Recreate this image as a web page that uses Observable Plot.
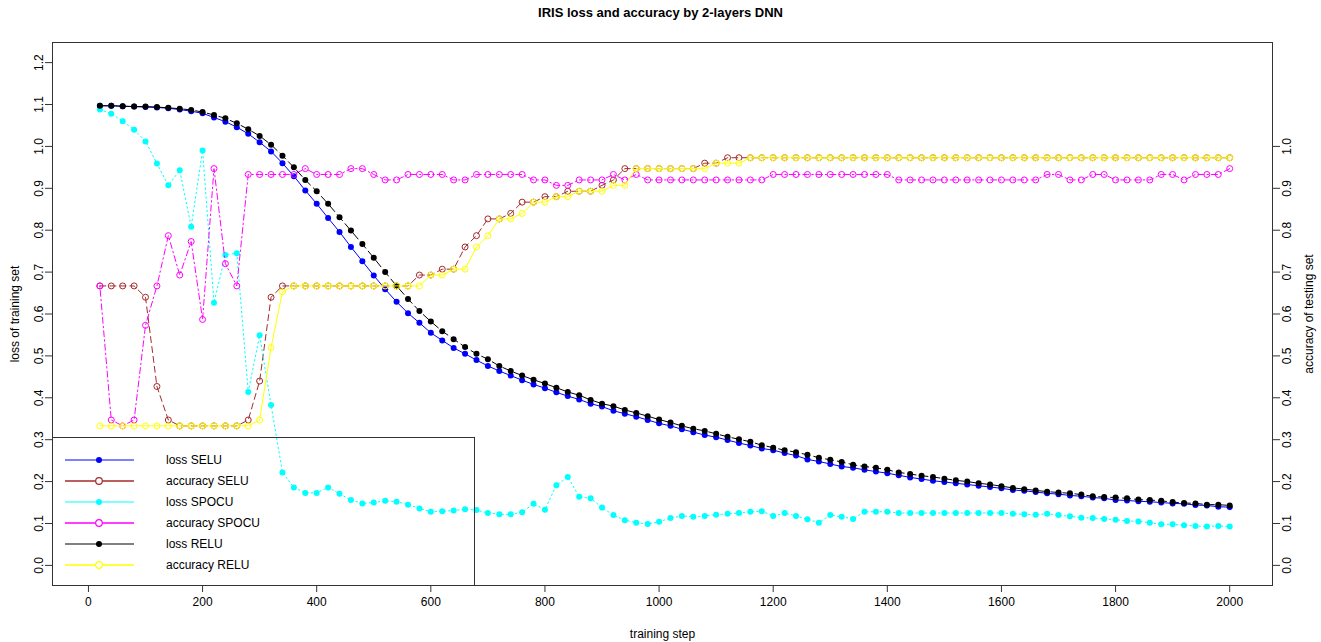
<!DOCTYPE html>
<html>
<head>
<meta charset="utf-8">
<script src="https://cdn.jsdelivr.net/npm/d3@7"></script>
<script src="https://cdn.jsdelivr.net/npm/@observablehq/plot@0.6"></script>
<style>
  html, body { margin: 0; padding: 0; background: #fff; }
  body { position: relative; width: 1321px; height: 642px; overflow: hidden; font-family: "Liberation Sans", Arial, sans-serif; }
  #title { height: 26px; line-height: 26px; text-align: center; font-weight: bold; font-size: 13px; color: #000; }
  #legend { position: absolute; left: 52px; top: 437px; width: 421px; height: 147px; border: 1px solid #333; box-sizing: content-box; pointer-events: none; }
  #legend .row { position: absolute; left: 0; height: 20px; width: 100%; }
  #legend svg { position: absolute; left: 11px; top: 0; }
  #legend span { position: absolute; left: 113px; top: 3px; font-size: 12px; color: #000; white-space: nowrap; }
</style>
</head>
<body>
<div id="title">IRIS loss and accuracy by 2-layers DNN</div>
<div id="chart"></div>
<div id="legend"></div>
<script>
// ---------- data ----------
const steps = [20,40,60,80,100,120,140,160,180,200,220,240,260,280,300,320,340,360,380,400,
  420,440,460,480,500,520,540,560,580,600,620,640,660,680,700,720,740,760,780,800,
  820,840,860,880,900,920,940,960,980,1000,1020,1040,1060,1080,1100,1120,1140,1160,1180,1200,
  1220,1240,1260,1280,1300,1320,1340,1360,1380,1400,1420,1440,1460,1480,1500,1520,1540,1560,1580,1600,
  1620,1640,1660,1680,1700,1720,1740,1760,1780,1800,1820,1840,1860,1880,1900,1920,1940,1960,1980,2000];

const lossSELU = [1.097,1.097,1.096,1.095,1.094,1.093,1.091,1.088,1.084,1.079,
  1.069,1.059,1.046,1.030,1.010,0.988,0.960,0.929,0.895,0.863,
  0.829,0.796,0.760,0.726,0.692,0.659,0.629,0.602,0.579,0.555,
  0.537,0.519,0.505,0.490,0.476,0.464,0.453,0.442,0.432,0.423,
  0.413,0.404,0.396,0.386,0.379,0.369,0.362,0.355,0.347,0.339,
  0.333,0.325,0.318,0.311,0.306,0.299,0.292,0.286,0.279,0.275,
  0.268,0.262,0.253,0.248,0.242,0.236,0.233,0.228,0.224,0.220,
  0.215,0.210,0.206,0.202,0.199,0.196,0.193,0.190,0.187,0.184,
  0.180,0.178,0.175,0.172,0.170,0.167,0.165,0.162,0.160,0.156,
  0.155,0.153,0.152,0.150,0.148,0.147,0.144,0.143,0.140,0.139];

const accSELU = [0.667,0.667,0.667,0.667,0.640,0.427,0.347,0.333,0.333,0.333,
  0.333,0.333,0.333,0.347,0.440,0.640,0.667,0.667,0.667,0.667,
  0.667,0.667,0.667,0.667,0.667,0.667,0.667,0.667,0.693,0.693,
  0.707,0.707,0.760,0.787,0.827,0.827,0.840,0.867,0.867,0.880,
  0.880,0.893,0.893,0.893,0.907,0.920,0.947,0.947,0.947,0.947,
  0.947,0.947,0.947,0.960,0.960,0.973,0.973,0.973,0.973,0.973,
  0.973,0.973,0.973,0.973,0.973,0.973,0.973,0.973,0.973,0.973,
  0.973,0.973,0.973,0.973,0.973,0.973,0.973,0.973,0.973,0.973,
  0.973,0.973,0.973,0.973,0.973,0.973,0.973,0.973,0.973,0.973,
  0.973,0.973,0.973,0.973,0.973,0.973,0.973,0.973,0.973,0.973];

const lossSPOCU = [1.088,1.078,1.060,1.040,1.012,0.959,0.907,0.943,0.808,0.990,
  0.627,0.741,0.745,0.414,0.549,0.383,0.222,0.186,0.173,0.173,
  0.186,0.171,0.156,0.148,0.150,0.154,0.152,0.145,0.136,0.128,
  0.129,0.131,0.134,0.132,0.125,0.122,0.122,0.127,0.147,0.133,
  0.191,0.211,0.164,0.160,0.138,0.120,0.108,0.102,0.099,0.104,
  0.113,0.118,0.116,0.118,0.121,0.123,0.125,0.128,0.129,0.118,
  0.125,0.118,0.110,0.102,0.120,0.116,0.111,0.128,0.128,0.128,
  0.125,0.125,0.125,0.125,0.125,0.125,0.125,0.125,0.125,0.125,
  0.123,0.122,0.121,0.123,0.120,0.117,0.114,0.113,0.111,0.109,
  0.106,0.105,0.102,0.098,0.098,0.096,0.094,0.093,0.094,0.093];

const accSPOCU = [0.667,0.347,0.333,0.347,0.573,0.667,0.787,0.693,0.773,0.587,
  0.947,0.720,0.667,0.933,0.933,0.933,0.933,0.933,0.947,0.933,
  0.933,0.933,0.947,0.947,0.933,0.920,0.920,0.933,0.933,0.933,
  0.933,0.920,0.920,0.933,0.933,0.933,0.933,0.933,0.920,0.920,
  0.907,0.907,0.920,0.920,0.920,0.933,0.920,0.933,0.920,0.920,
  0.920,0.920,0.920,0.920,0.920,0.920,0.920,0.920,0.920,0.933,
  0.933,0.933,0.933,0.933,0.933,0.933,0.933,0.933,0.933,0.933,
  0.920,0.920,0.920,0.920,0.920,0.920,0.920,0.920,0.920,0.920,
  0.920,0.920,0.920,0.933,0.933,0.920,0.920,0.933,0.933,0.920,
  0.920,0.920,0.920,0.933,0.933,0.920,0.933,0.933,0.933,0.947];

const lossRELU = [1.097,1.097,1.096,1.095,1.095,1.094,1.092,1.090,1.087,1.082,
  1.075,1.067,1.055,1.041,1.025,1.004,0.978,0.950,0.920,0.893,
  0.863,0.831,0.799,0.767,0.734,0.700,0.667,0.636,0.607,0.582,
  0.559,0.540,0.521,0.505,0.492,0.476,0.464,0.453,0.443,0.434,
  0.424,0.414,0.406,0.395,0.386,0.380,0.371,0.364,0.356,0.348,
  0.341,0.333,0.326,0.321,0.314,0.307,0.301,0.295,0.287,0.281,
  0.275,0.270,0.264,0.257,0.252,0.247,0.240,0.236,0.233,0.228,
  0.222,0.218,0.214,0.211,0.207,0.203,0.200,0.196,0.193,0.189,
  0.185,0.182,0.179,0.176,0.174,0.172,0.169,0.165,0.163,0.162,
  0.160,0.157,0.156,0.154,0.151,0.149,0.148,0.145,0.145,0.143];

const accRELU = [0.333,0.333,0.333,0.333,0.333,0.333,0.333,0.333,0.333,0.333,
  0.333,0.333,0.333,0.333,0.347,0.520,0.653,0.667,0.667,0.667,
  0.667,0.667,0.667,0.667,0.667,0.667,0.667,0.667,0.667,0.693,
  0.693,0.707,0.707,0.760,0.787,0.827,0.827,0.840,0.867,0.867,
  0.880,0.880,0.893,0.893,0.893,0.907,0.907,0.947,0.947,0.947,
  0.947,0.947,0.947,0.947,0.960,0.960,0.960,0.973,0.973,0.973,
  0.973,0.973,0.973,0.973,0.973,0.973,0.973,0.973,0.973,0.973,
  0.973,0.973,0.973,0.973,0.973,0.973,0.973,0.973,0.973,0.973,
  0.973,0.973,0.973,0.973,0.973,0.973,0.973,0.973,0.973,0.973,
  0.973,0.973,0.973,0.973,0.973,0.973,0.973,0.973,0.973,0.973];

const seriesNames = ["loss SELU","accuracy SELU","loss SPOCU","accuracy SPOCU","loss RELU","accuracy RELU"];
const seriesValues = [lossSELU, accSELU, lossSPOCU, accSPOCU, lossRELU, accRELU];
const seriesColors = ["#0000FF","#A52A2A","#00FFFF","#FF00FF","#000000","#FFFF00"];
const seriesDash = [null, "6 4", "1.5 3", "1.5 3 6 3", "8 4", null];
const seriesOpen = [false, true, false, true, false, true];

const xTicks = [0,200,400,600,800,1000,1200,1400,1600,1800,2000];
const leftTicks = [0.0,0.1,0.2,0.3,0.4,0.5,0.6,0.7,0.8,0.9,1.0,1.1,1.2];
const rightTicks = [0.0,0.1,0.2,0.3,0.4,0.5,0.6,0.7,0.8,0.9,1.0];

// ---------- marks ----------
const seriesMarks = [];
seriesNames.forEach((name, i) => {
  const rows = steps.map((s, j) => ({step: s, value: seriesValues[i][j]}));
  seriesMarks.push(Plot.line(rows, {x: "step", y: "value", stroke: seriesColors[i], strokeWidth: 1,
    strokeDasharray: seriesDash[i] || undefined}));
  if (seriesOpen[i]) {
    seriesMarks.push(Plot.dot(rows, {x: "step", y: "value", r: 3, stroke: seriesColors[i], fill: "none", strokeWidth: 1}));
  } else {
    seriesMarks.push(Plot.dot(rows, {x: "step", y: "value", r: 3, fill: seriesColors[i], stroke: "none"}));
  }
});

const chart = Plot.plot({
  width: 1321,
  height: 616,
  marginTop: 16,
  marginBottom: 57,
  marginLeft: 52,
  marginRight: 49,
  style: {fontFamily: "'Liberation Sans', Arial, sans-serif", fontSize: "12px", background: "white", color: "#000"},
  x: {domain: [-63, 2075]},
  y: {domain: [-0.048, 1.248]},
  marks: [
    Plot.axisX({ticks: xTicks, tickFormat: d3.format("d"), tickSize: 7, tickPadding: 5, stroke: "#333",
      label: "training step", labelAnchor: "center", labelArrow: "none", labelOffset: 52}),
    Plot.axisY({anchor: "left", ticks: leftTicks, tickFormat: d3.format(".1f"), tickSize: 7, tickRotate: -90, stroke: "#333",
      label: "loss of training set", labelAnchor: "center", labelArrow: "none", labelOffset: 42}),
    Plot.axisY({anchor: "right", ticks: rightTicks, tickFormat: d3.format(".1f"), tickSize: 7, tickRotate: -90, lineAnchor: "top", stroke: "#333",
      label: "accuracy of testing set", labelAnchor: "center", labelArrow: "none", labelOffset: 40}),
    ...seriesMarks,
    Plot.frame({stroke: "#333"})
  ]
});
document.getElementById("chart").appendChild(chart);

// ---------- legend (HTML overlay) ----------
const legend = d3.select("#legend");
const rowTops = [12, 33, 54, 75, 96, 117];
seriesNames.forEach((name, i) => {
  const row = legend.append("div").attr("class", "row").style("top", rowTops[i] + "px");
  const svg = row.append("svg").attr("width", 72).attr("height", 20);
  const thick = seriesOpen[i];
  svg.append("line").attr("x1", 1).attr("x2", 70).attr("y1", 10).attr("y2", 10)
    .attr("stroke", seriesColors[i]).attr("stroke-width", thick ? 2 : 1.2).attr("opacity", thick ? 0.75 : 1);
  if (seriesOpen[i]) {
    svg.append("circle").attr("cx", 35).attr("cy", 10).attr("r", 3.3).attr("fill", "white").attr("stroke", seriesColors[i]).attr("stroke-width", 1.2);
  } else {
    svg.append("circle").attr("cx", 35).attr("cy", 10).attr("r", 3).attr("fill", seriesColors[i]);
  }
  row.append("span").text(name);
});
</script>
</body>
</html>
